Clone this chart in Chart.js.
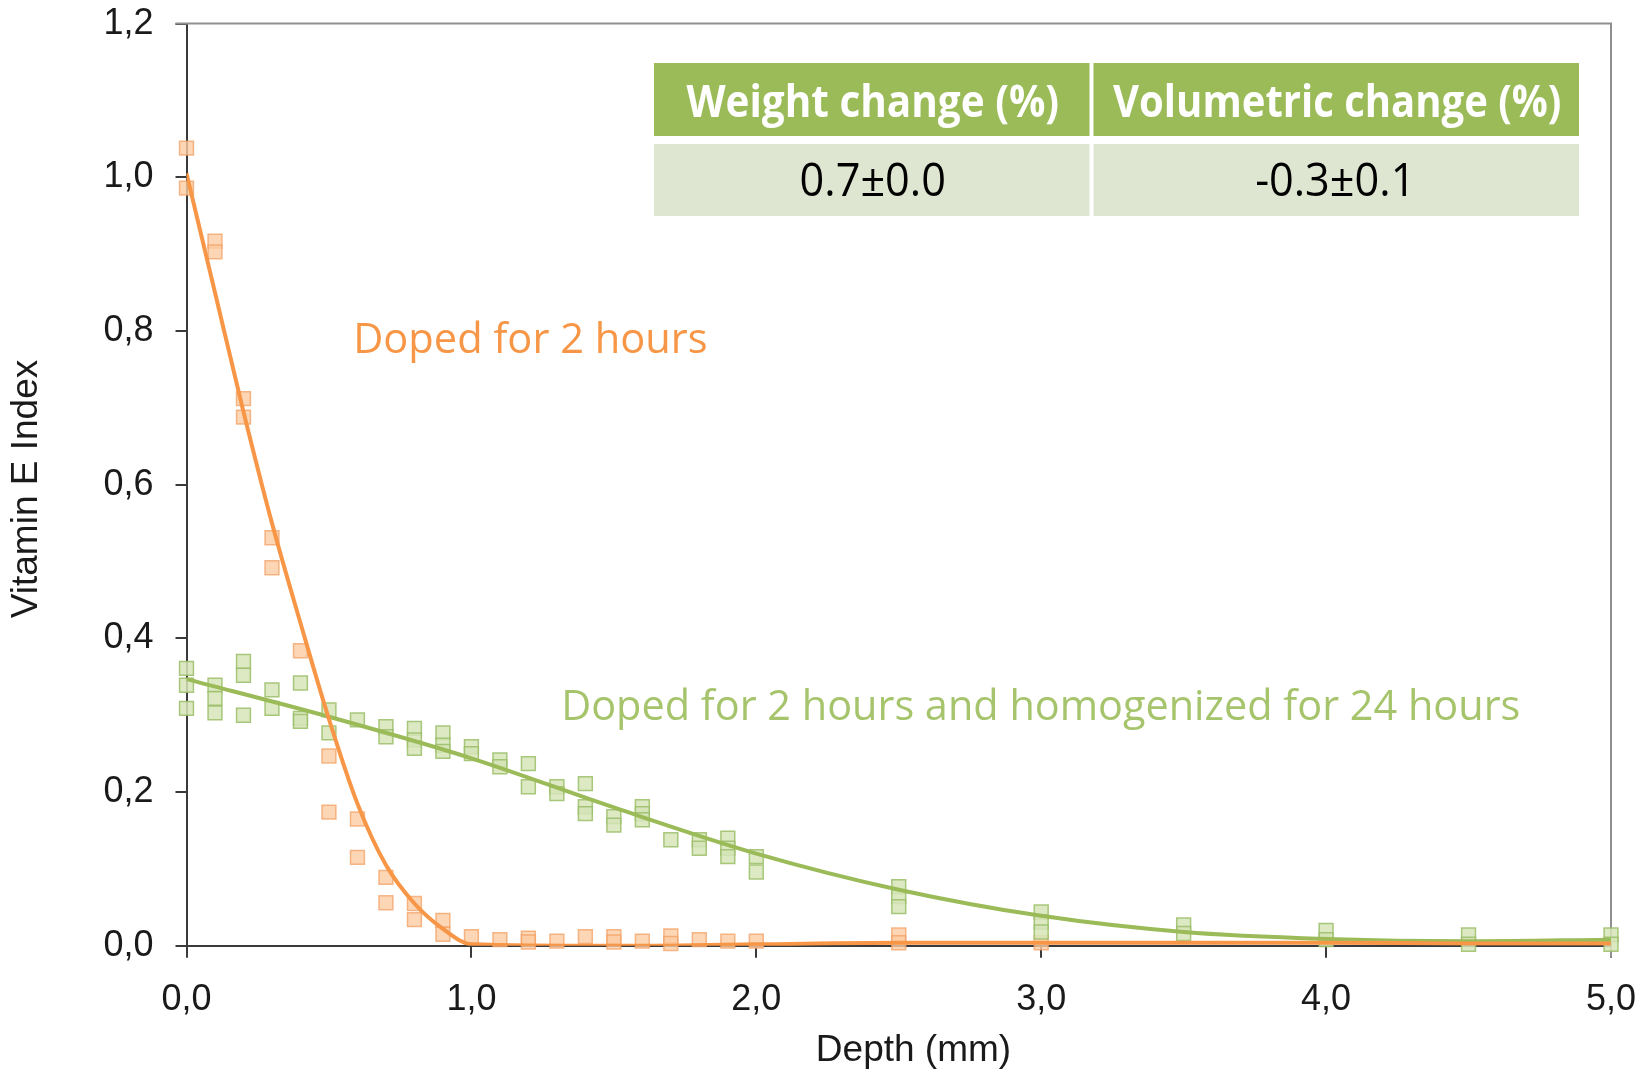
<!DOCTYPE html>
<html>
<head>
<meta charset="utf-8">
<title>Vitamin E Index vs Depth</title>
<script src="https://cdn.jsdelivr.net/npm/chart.js@4.4.1/dist/chart.umd.min.js"></script>
<style>
  html, body { margin: 0; padding: 0; background: #ffffff; }
  #chart { display: block; }
</style>
</head>
<body>
<canvas id="chart" width="1652" height="1073"></canvas>
<script>
/* --------------- Data --------------------- */
// doped for 2 hours (measured points)
const orangeX = [0, 0, 0.1, 0.1, 0.2, 0.2, 0.3, 0.3, 0.4, 0.5, 0.5, 0.6, 0.6, 0.7, 0.7, 0.8, 0.8, 0.9, 0.9,
  1.0, 1.1, 1.2, 1.2, 1.3, 1.4, 1.5, 1.5, 1.6, 1.7, 1.7, 1.8, 1.9, 2.0, 2.5, 2.5, 3.0];
const orangeY = [1.038, 0.986, 0.917, 0.903, 0.712, 0.688, 0.531, 0.492, 0.384, 0.247, 0.174, 0.165, 0.115, 0.089, 0.056, 0.055, 0.034, 0.033, 0.015,
  0.012, 0.008, 0.010, 0.005, 0.006, 0.012, 0.012, 0.005, 0.006, 0.013, 0.003, 0.008, 0.006, 0.006, 0.014, 0.004, 0.004];

// doped for 2 hours + homogenized 24 hours (measured points)
const greenX = [0, 0, 0, 0.1, 0.1, 0.1, 0.2, 0.2, 0.2, 0.3, 0.3, 0.4, 0.4, 0.4, 0.5, 0.5, 0.6, 0.7, 0.7,
  0.8, 0.8, 0.8, 0.9, 0.9, 0.9, 1.0, 1.0, 1.1, 1.1, 1.2, 1.2, 1.3, 1.3, 1.4, 1.4, 1.4, 1.5, 1.5,
  1.6, 1.6, 1.6, 1.7, 1.8, 1.8, 1.9, 1.9, 1.9, 2.0, 2.0, 2.5, 2.5, 2.5, 3.0, 3.0, 3.0, 3.5, 3.5,
  4.0, 4.0, 4.5, 4.5, 5.0, 5.0];
const greenY = [0.361, 0.339, 0.309, 0.339, 0.322, 0.303, 0.370, 0.352, 0.300, 0.333, 0.309, 0.342, 0.296, 0.292, 0.307, 0.277, 0.294, 0.285, 0.272,
  0.283, 0.268, 0.257, 0.277, 0.261, 0.253, 0.259, 0.250, 0.242, 0.233, 0.237, 0.207, 0.207, 0.198, 0.211, 0.181, 0.172, 0.168, 0.157,
  0.181, 0.172, 0.164, 0.138, 0.138, 0.127, 0.140, 0.127, 0.116, 0.116, 0.096, 0.077, 0.064, 0.051, 0.044, 0.031, 0.018, 0.027, 0.016,
  0.020, 0.008, 0.014, 0.002, 0.014, 0.002];

// fitted curves
const orangeFitX = [0, 0.1, 0.2, 0.3, 0.4, 0.5, 0.6, 0.7, 0.8, 0.9, 1.0, 1.5, 2.0, 2.5, 3.0, 3.5, 4.0, 4.5, 5.0];
const orangeFitY = [1.005, 0.85, 0.695, 0.55, 0.42, 0.295, 0.185, 0.105, 0.055, 0.022, 0.002, 0.0, 0.002, 0.004, 0.004, 0.004, 0.004, 0.003, 0.003];
const greenFitX = [0, 0.5, 1.0, 1.5, 2.0, 2.5, 3.0, 3.5, 4.0, 4.5, 5.0];
const greenFitY = [0.347, 0.298, 0.244, 0.18, 0.12, 0.073, 0.039, 0.018, 0.009, 0.006, 0.008];

// ticks
const xTicks = [0, 1, 2, 3, 4, 5];
const yTicks = [0, 0.2, 0.4, 0.6, 0.8, 1.0, 1.2];

// inset table
const tableHeaders = ["Weight change (%)", "Volumetric change (%)"];
const tableValues = ["0.7±0.0", "-0.3±0.1"];

// labels
const orangeLabel = "Doped for 2 hours";
const greenLabel = "Doped for 2 hours and homogenized for 24 hours";
const xTitle = "Depth (mm)";
const yTitle = "Vitamin E Index";

/* --------------- Colours --------------------- */
const orange = "#F79646";
const green = "#9BBB59";

const toPoints = (xs, ys) => xs.map((x, i) => ({ x: x, y: ys[i] }));
const comma = (v) => v.toFixed(1).replace(".", ",");

// Calibri-ish: Open Sans, optionally squeezed a bit horizontally
const drawText = (ctx, str, x, y, font, color, align, squeeze) => {
  ctx.save();
  ctx.font = font;
  ctx.fillStyle = color;
  ctx.textBaseline = "alphabetic";
  const w = ctx.measureText(str).width * squeeze;
  let left = x;
  if (align === "center") left = x - w / 2;
  ctx.translate(left, y);
  ctx.scale(squeeze, 1);
  ctx.textAlign = "left";
  ctx.fillText(str, 0, 0);
  ctx.restore();
};

/* --------------- Plugins --------------------- */
// gray frame on top and right side of the plot
const framePlugin = {
  id: "frame",
  beforeDatasetsDraw(chart) {
    const { ctx, chartArea: a } = chart;
    ctx.save();
    ctx.strokeStyle = "#8f8f8f";
    ctx.lineWidth = 2;
    ctx.beginPath();
    ctx.moveTo(a.left - 11, a.top);
    ctx.lineTo(a.right, a.top);
    ctx.lineTo(a.right, a.bottom + 12);
    ctx.stroke();
    ctx.restore();
  },
};

const labelPlugin = {
  id: "labels",
  afterDatasetsDraw(chart) {
    const { ctx } = chart;
    const xs = chart.scales.x;
    const ys = chart.scales.y;
    const font = "42px 'Open Sans'";
    drawText(ctx, orangeLabel, xs.getPixelForValue(0.585), ys.getPixelForValue(0.772), font, orange, "left", 0.99);
    drawText(ctx, greenLabel, xs.getPixelForValue(1.315), ys.getPixelForValue(0.294), font, "#A6C46C", "left", 0.986);

    // axis titles (a bit off-centre in the original)
    ctx.save();
    ctx.font = "37px 'Liberation Sans', Arial, sans-serif";
    ctx.fillStyle = "#1a1a1a";
    ctx.textAlign = "center";
    ctx.textBaseline = "middle";
    ctx.fillText(xTitle, 913.5, 1051);
    ctx.translate(26.5, 489);
    ctx.rotate(-Math.PI / 2);
    ctx.fillText(yTitle, 0, 0);
    ctx.restore();

    // inset table
    const left = 654, right = 1579, mid = 1091.5;
    const hTop = 63, hBot = 136, bTop = 144, bBot = 216;
    ctx.save();
    ctx.fillStyle = green;
    ctx.fillRect(left, hTop, right - left, hBot - hTop);
    ctx.fillStyle = "#DEE6D1";
    ctx.fillRect(left, bTop, right - left, bBot - bTop);
    ctx.fillStyle = "#ffffff";
    ctx.fillRect(mid - 2, hTop, 4, bBot - hTop);
    ctx.restore();
    const c1 = (left + mid) / 2, c2 = (mid + right) / 2;
    drawText(ctx, tableHeaders[0], c1, 117, "bold 44px 'Open Sans'", "#ffffff", "center", 0.92);
    drawText(ctx, tableHeaders[1], c2 + 2, 117, "bold 44px 'Open Sans'", "#ffffff", "center", 0.91);
    drawText(ctx, tableValues[0], c1, 196, "46px 'Open Sans'", "#000000", "center", 0.94);
    drawText(ctx, tableValues[1], c2, 196, "46px 'Open Sans'", "#000000", "center", 0.94);
  },
};

/* --------------- Chart --------------------- */
const tickFont = { family: "'Liberation Sans', Arial, sans-serif", size: 36 };

new Chart(document.getElementById("chart"), {
  type: "scatter",
  plugins: [framePlugin, labelPlugin],
  data: {
    datasets: [
      {
        label: "fit 2h",
        type: "line",
        data: toPoints(orangeFitX, orangeFitY),
        borderColor: orange,
        borderWidth: 4,
        pointRadius: 0,
        cubicInterpolationMode: "monotone",
        order: 0,
      },
      {
        label: "fit 2h + 24h",
        type: "line",
        data: toPoints(greenFitX, greenFitY),
        borderColor: green,
        borderWidth: 4,
        pointRadius: 0,
        cubicInterpolationMode: "monotone",
        order: 1,
      },
      {
        label: orangeLabel,
        data: toPoints(orangeX, orangeY),
        pointStyle: "rect",
        pointRadius: 9.8,
        backgroundColor: "rgba(252, 204, 162, 0.8)",
        borderColor: "rgba(242, 160, 100, 0.75)",
        borderWidth: 1.5,
        clip: false,
        order: 3,
      },
      {
        label: greenLabel,
        data: toPoints(greenX, greenY),
        pointStyle: "rect",
        pointRadius: 9.8,
        backgroundColor: "rgba(214, 229, 185, 0.85)",
        borderColor: "rgba(155, 190, 105, 0.85)",
        borderWidth: 1.5,
        clip: false,
        order: 2,
      },
    ],
  },
  options: {
    responsive: false,
    animation: false,
    layout: { padding: { left: 0, right: 41, top: 23.6, bottom: 0 } },
    plugins: {
      legend: { display: false },
      tooltip: { enabled: false },
    },
    scales: {
      x: {
        type: "linear",
        min: 0,
        max: 5,
        afterBuildTicks: (axis) => { axis.ticks = xTicks.map((v) => ({ value: v })); },
        afterFit: (axis) => {
          axis.height = 127.2;
          axis.paddingLeft = 0;
          axis.paddingRight = 0;
        },
        border: { color: "#3a3a3a", width: 2 },
        grid: { drawOnChartArea: false, drawTicks: true, tickLength: 12, color: "#3a3a3a", lineWidth: 2 },
        ticks: {
          font: tickFont,
          color: "#1a1a1a",
          padding: 21,
          maxRotation: 0,
          callback: (v) => comma(v),
        },
        title: { display: false },
      },
      y: {
        type: "linear",
        min: 0,
        max: 1.2,
        afterBuildTicks: (axis) => { axis.ticks = yTicks.map((v) => ({ value: v })); },
        afterFit: (axis) => {
          axis.width = 186.5;
          axis.paddingTop = 0;
          axis.paddingBottom = 0;
        },
        border: { color: "#3a3a3a", width: 2 },
        grid: { drawOnChartArea: false, drawTicks: true, tickLength: 11, color: "#3a3a3a", lineWidth: 2 },
        ticks: {
          font: tickFont,
          color: "#1a1a1a",
          padding: 22,
          callback: (v) => comma(v),
        },
        title: { display: false },
      },
    },
  },
});
</script>
</body>
</html>
